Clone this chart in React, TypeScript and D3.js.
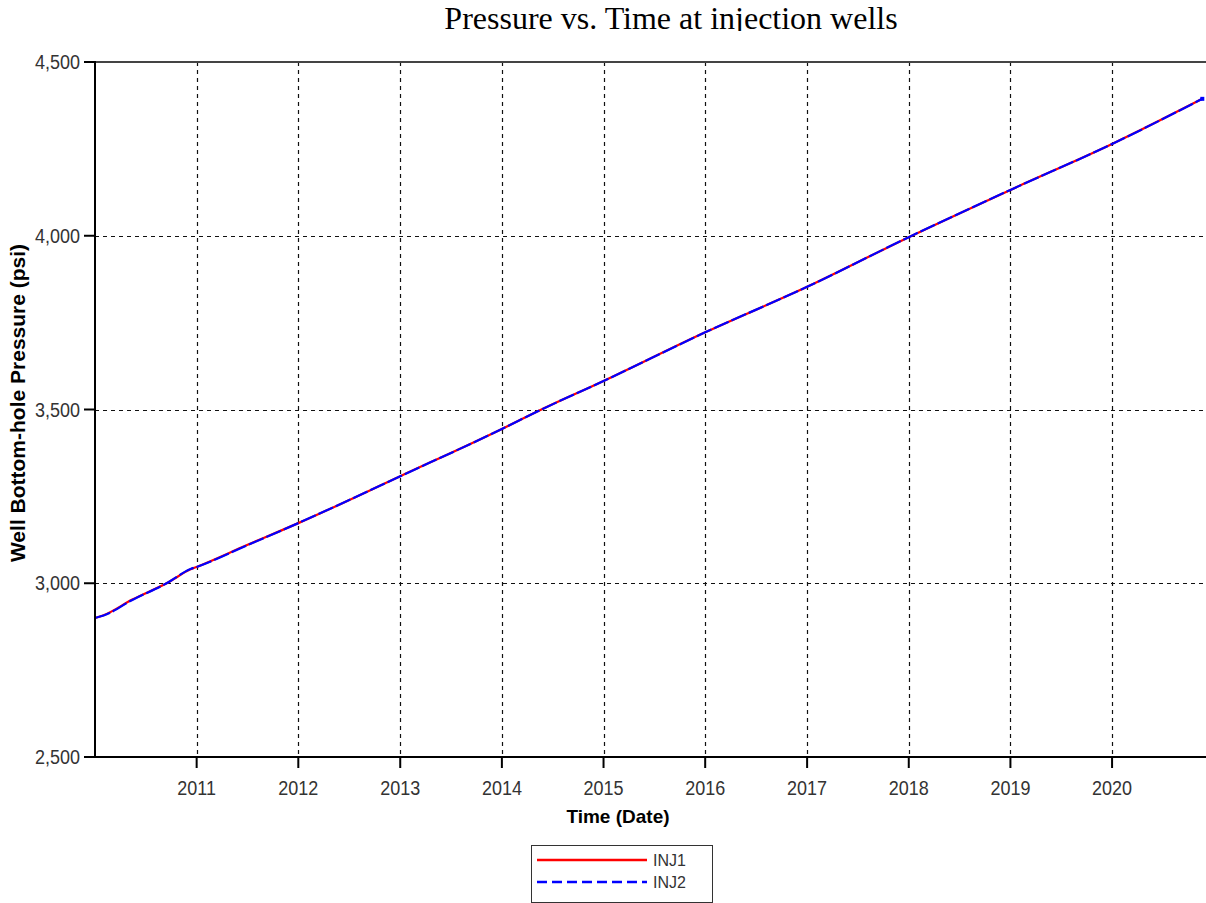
import React from "react";
import * as d3 from "d3";

const dates = [
  "2010-01-01", "2010-02-01", "2010-05-15", "2010-09-20", "2010-12-10",
  "2011-01-01", "2011-07-01", "2012-01-01", "2013-01-01", "2014-01-01",
  "2014-05-10", "2015-01-01", "2016-01-01", "2017-01-01", "2018-01-01",
  "2019-01-01", "2020-01-01", "2020-11-20",
];
const inj1 = [
  2900, 2908, 2953, 3002, 3040,
  3047, 3110, 3173, 3308, 3444,
  3495, 3582, 3722, 3853, 3996,
  4132, 4264, 4394,
];
const inj2 = [
  2900, 2907, 2952, 3002, 3041,
  3047, 3109, 3173, 3308, 3444,
  3495, 3582, 3722, 3853, 3996,
  4132, 4264, 4394,
];
const seriesNames = ["INJ1", "INJ2"];
const yTicks = [2500, 3000, 3500, 4000, 4500];
const xTickYears = [2011, 2012, 2013, 2014, 2015, 2016, 2017, 2018, 2019, 2020];

const title = "Pressure vs. Time at injection wells";
const xTitle = "Time (Date)";
const yTitle = "Well Bottom-hole Pressure (psi)";

export default function App() {
  const W = 1206;
  const H = 903;
  const left = 95;
  const top = 62;
  const bottom = 757;
  const parse = d3.timeParse("%Y-%m-%d");
  const x = d3
    .scaleTime()
    .domain([parse("2010-01-01")!, parse("2021-01-01")!])
    .range([left, 1214]);
  const y = d3.scaleLinear().domain([2500, 4500]).range([bottom, top]);
  const fmt = d3.format(",");

  const pts1 = dates.map((d, i) => [parse(d)!, inj1[i]] as [Date, number]);
  const pts2 = dates.map((d, i) => [parse(d)!, inj2[i]] as [Date, number]);
  const line = d3
    .line<[Date, number]>()
    .x((d) => x(d[0]))
    .y((d) => y(d[1]))
    .curve(d3.curveMonotoneX);

  const sans = "'Liberation Sans', Arial, sans-serif";
  const last = pts2[pts2.length - 1];

  return (
    <svg
      width={W}
      height={H}
      style={{ position: "absolute", left: 0, top: 0, display: "block", background: "#fff" }}
    >
      <rect x={0} y={0} width={W} height={H} fill="#fff" />
      <text
        x={671}
        y={29}
        textAnchor="middle"
        fontFamily="'Liberation Serif', 'Times New Roman', serif"
        fontSize={32}
        fill="#000"
      >
        {title}
      </text>
      <rect x={0} y={31} width={W} height={H - 31} fill="#fff" />

      {/* grid */}
      {xTickYears.map((yr) => {
        const xx = Math.round(x(new Date(yr, 0, 1))) + 0.5;
        return (
          <line
            key={"gx" + yr}
            x1={xx}
            x2={xx}
            y1={top}
            y2={bottom}
            stroke="#111"
            strokeWidth={1.2}
            strokeDasharray="4,4"
          />
        );
      })}
      {yTicks
        .filter((t) => t !== 2500 && t !== 4500)
        .map((t) => {
          const yy = Math.round(y(t)) + 0.5;
          return (
            <line
              key={"gy" + t}
              x1={left}
              x2={W}
              y1={yy}
              y2={yy}
              stroke="#111"
              strokeWidth={1.2}
              strokeDasharray="4,4"
            />
          );
        })}

      {/* top border */}
      <line x1={left} x2={W} y1={top} y2={top} stroke="#444" strokeWidth={2} />

      {/* series */}
      <path d={line(pts1) || ""} fill="none" stroke="#ff0000" strokeWidth={2.2} />
      <path
        d={line(pts2) || ""}
        fill="none"
        stroke="#0000ff"
        strokeWidth={2.2}
        strokeDasharray="16,3"
      />
      <rect x={x(last[0]) - 2} y={y(last[1]) - 2} width={4} height={4} fill="#0000ff" />

      {/* axes */}
      <line x1={left} x2={left} y1={top - 1} y2={bottom + 1} stroke="#000" strokeWidth={2} />
      <line x1={left - 1} x2={W} y1={bottom} y2={bottom} stroke="#000" strokeWidth={2} />

      {yTicks.map((t) => {
        const yy = y(t);
        return (
          <g key={"yt" + t}>
            <line x1={left - 11} x2={left} y1={yy} y2={yy} stroke="#000" strokeWidth={2} />
            <text
              transform={`translate(80, ${yy + 7}) scale(1, 1.15)`}
              textAnchor="end"
              fontFamily={sans}
              fontSize={18}
              fill="#333"
            >
              {fmt(t)}
            </text>
          </g>
        );
      })}

      {xTickYears.map((yr) => {
        const xx = x(new Date(yr, 0, 1));
        return (
          <g key={"xt" + yr}>
            <line x1={xx} x2={xx} y1={bottom} y2={bottom + 11} stroke="#000" strokeWidth={2} />
            <text
              transform={`translate(${xx}, 795) scale(1, 1.15)`}
              textAnchor="middle"
              fontFamily={sans}
              fontSize={18}
              fill="#333"
            >
              {yr}
            </text>
          </g>
        );
      })}

      <text
        x={618}
        y={823}
        textAnchor="middle"
        fontFamily={sans}
        fontWeight="bold"
        fontSize={19}
        fill="#000"
      >
        {xTitle}
      </text>
      <text
        transform={`translate(25, 403) rotate(-90)`}
        textAnchor="middle"
        fontFamily={sans}
        fontWeight="bold"
        fontSize={21}
        fill="#000"
      >
        {yTitle}
      </text>

      {/* legend */}
      <rect x={531.5} y={845.5} width={181} height={57} fill="#fff" stroke="#333" strokeWidth={1} />
      <line x1={537} x2={647} y1={860} y2={860} stroke="#ff0000" strokeWidth={2.5} />
      <line
        x1={537}
        x2={647}
        y1={882}
        y2={882}
        stroke="#0000ff"
        strokeWidth={2.5}
        strokeDasharray="10,5"
      />
      <text x={653} y={866} fontFamily={sans} fontSize={16} fill="#333">
        {seriesNames[0]}
      </text>
      <text x={653} y={888} fontFamily={sans} fontSize={16} fill="#333">
        {seriesNames[1]}
      </text>
    </svg>
  );
}
